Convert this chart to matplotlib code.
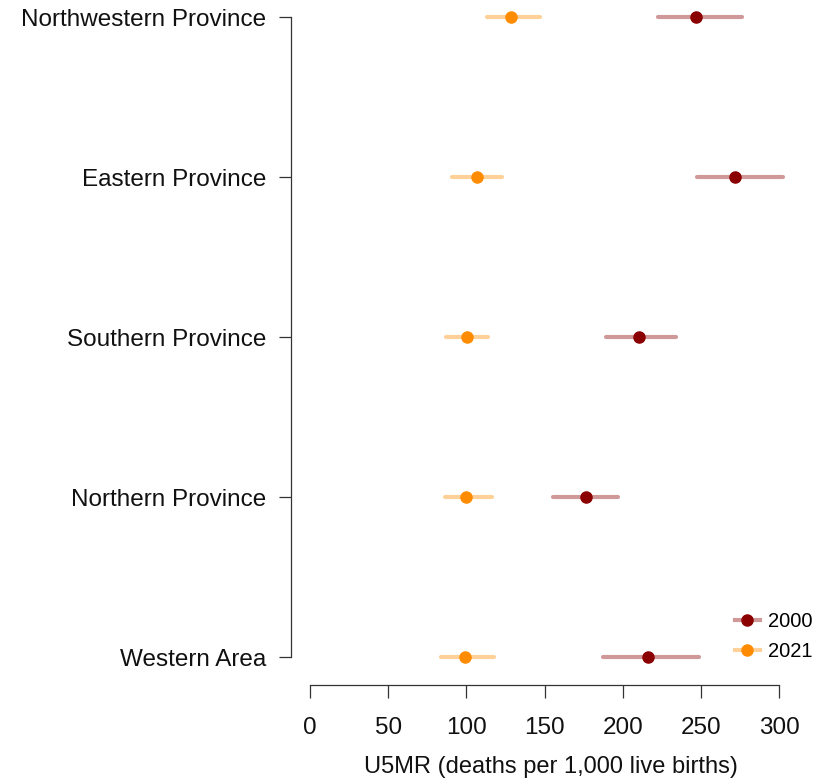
import matplotlib
matplotlib.use("Agg")
import matplotlib.pyplot as plt
from matplotlib.lines import Line2D

plt.rcParams['font.family'] = ['Liberation Sans', 'DejaVu Sans']

regions = ["Western Area", "Northern Province", "Southern Province",
           "Eastern Province", "Northwestern Province"]
u5mr_2000 = [216.0, 176.4, 210.2, 271.7, 246.8]
lo_2000 = [187.2, 155.3, 189.0, 247.4, 222.3]
hi_2000 = [248.5, 197.2, 234.0, 302.7, 276.0]
u5mr_2021 = [99.4, 99.6, 100.4, 106.8, 128.3]
lo_2021 = [84.1, 86.6, 87.2, 91.0, 113.2]
hi_2021 = [117.4, 116.2, 114.0, 122.8, 147.0]
xticks = [0, 50, 100, 150, 200, 250, 300]

fig = plt.figure(figsize=(8.3, 7.8), dpi=100)
ax = fig.add_axes([291/830, 95/780, 520/830, 675/780])

c2000_line = (139/255, 0, 0, 0.4)
c2000_pt = "#8b0000"
c2021_line = (1.0, 140/255, 0, 0.4)
c2021_pt = "#ff8c00"

for i in range(len(regions)):
    ax.plot([lo_2000[i], hi_2000[i]], [i, i], color=c2000_line, lw=3, solid_capstyle='round')
    ax.plot([lo_2021[i], hi_2021[i]], [i, i], color=c2021_line, lw=3, solid_capstyle='round')
    ax.plot(u5mr_2000[i], i, 'o', color=c2000_pt, ms=8)
    ax.plot(u5mr_2021[i], i, 'o', color=c2021_pt, ms=8)

ax.set_xlim(-12.1, 320.4)
ax.set_ylim(-0.175, 4.044)
ax.set_yticks(range(len(regions)))
ax.set_yticklabels(regions, fontsize=17.5, color='#111111')
ax.set_xticks(xticks)
ax.set_xticklabels([str(t) for t in xticks], fontsize=17.5, color='#111111')
ax.spines['top'].set_visible(False)
ax.spines['right'].set_visible(False)
ax.spines['left'].set_bounds(0, 4)
ax.spines['bottom'].set_bounds(0, 300)
for s in ['left', 'bottom']:
    ax.spines[s].set_color('#333333')
    ax.spines[s].set_linewidth(0.9)
ax.tick_params(axis='both', length=9, width=0.9, color='#333333')
ax.tick_params(axis='y', pad=9)
ax.tick_params(axis='x', pad=14)
ax.set_xlabel("U5MR (deaths per 1,000 live births)", fontsize=17, labelpad=12,
              color='#111111')

handles = [
    Line2D([0], [0], color=c2000_line, lw=3, marker='o', markerfacecolor=c2000_pt,
           markeredgecolor=c2000_pt, ms=8),
    Line2D([0], [0], color=c2021_line, lw=3, marker='o', markerfacecolor=c2021_pt,
           markeredgecolor=c2021_pt, ms=8),
]
ax.legend(handles, ["2000", "2021"], loc='lower right', bbox_to_anchor=(1.037, 0.008),
          frameon=False, fontsize=14.5, handlelength=1.2, handletextpad=0.4,
          labelspacing=0.55)

fig.savefig("out.png", dpi=100)
